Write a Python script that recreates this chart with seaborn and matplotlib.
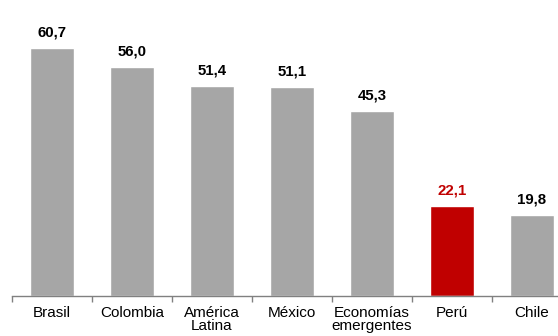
import matplotlib
matplotlib.use("Agg")
import matplotlib.pyplot as plt
import seaborn as sns
import pandas as pd
import numpy as np

# Deuda pública (% del PBI) por país o región
categories = ["Brasil", "Colombia", "América\nLatina", "México",
              "Economías\nemergentes", "Perú", "Chile"]
values = [60.7, 56.0, 51.4, 51.1, 45.3, 22.1, 19.8]
highlight = "Perú"

GRAY = "#A6A6A6"
RED = "#C00000"

df = pd.DataFrame({"pais": categories, "valor": values})
palette = {c: (RED if c == highlight else GRAY) for c in categories}

sns.set_theme(style="white")
plt.rcParams["font.family"] = ["Liberation Sans", "DejaVu Sans"]

fig = plt.figure(figsize=(5.58, 3.36), dpi=100)
# axes spans 7 slots of 80 px starting at x=12; the last slot runs past the right edge
ax = fig.add_axes([12 / 558, 40 / 336, 560 / 558, 296 / 336])

sns.barplot(data=df, x="pais", y="valor", hue="pais", palette=palette,
            width=0.56, saturation=1, legend=False, ax=ax)

ax.set_xlim(-0.5, len(categories) - 0.5)
ax.set_ylim(0, 72.44)

for i, (c, v) in enumerate(zip(categories, values)):
    ax.annotate(f"{v:.1f}".replace(".", ","), (i, v), xytext=(0, 6),
                textcoords="offset points", ha="center", va="bottom",
                fontsize=10.8, fontweight="bold",
                color=RED if c == highlight else "black")

for s in ["top", "right", "left"]:
    ax.spines[s].set_visible(False)
ax.spines["bottom"].set_color("#808080")
ax.spines["bottom"].set_linewidth(1.0)

ax.set_yticks([])
ax.set_xlabel("")
ax.set_ylabel("")
ax.set_xticks(np.arange(len(categories)))
ax.set_xticklabels(categories, fontsize=11, linespacing=0.92)
ax.tick_params(axis="x", which="major", length=0, pad=7, colors="black")
ax.set_xticks(np.arange(len(categories) + 1) - 0.5, minor=True)
ax.tick_params(axis="x", which="minor", length=4, width=1.0, color="#808080",
               direction="out", bottom=True)

fig.savefig("out.png", dpi=100)
